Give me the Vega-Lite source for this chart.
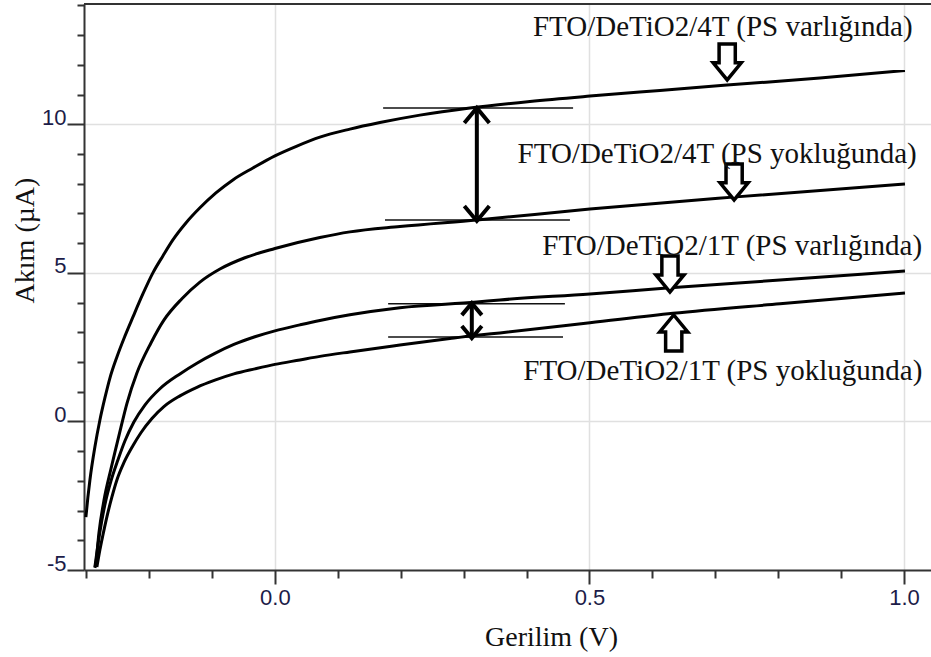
{
  "$schema": "https://vega.github.io/schema/vega-lite/v6.json",
  "autosize": {"type": "none"},
  "padding": {"left": 84, "top": 4, "right": 0, "bottom": 87},
  "width": 847,
  "height": 566,
  "background": "white",
  "config": {"view": {"stroke": null}},
  "datasets": {
    "curves": [
      {"s":"A","x":-0.3005,"y":-3.22},{"s":"A","x":-0.2973,"y":-2.55},{"s":"A","x":-0.2941,"y":-1.97},{"s":"A","x":-0.2862,"y":-0.86},{"s":"A","x":-0.2782,"y":0.05},{"s":"A","x":-0.2703,"y":0.79},{"s":"A","x":-0.2623,"y":1.46},{"s":"A","x":-0.2512,"y":2.17},{"s":"A","x":-0.2385,"y":2.87},{"s":"A","x":-0.2258,"y":3.51},{"s":"A","x":-0.2099,"y":4.29},{"s":"A","x":-0.194,"y":5.0},{"s":"A","x":-0.1781,"y":5.57},{"s":"A","x":-0.1622,"y":6.11},{"s":"A","x":-0.1415,"y":6.68},{"s":"A","x":-0.1192,"y":7.19},{"s":"A","x":-0.0938,"y":7.69},{"s":"A","x":-0.0668,"y":8.13},{"s":"A","x":-0.035,"y":8.53},{"s":"A","x":0.0,"y":8.94},{"s":"A","x":0.035,"y":9.27},{"s":"A","x":0.0715,"y":9.57},{"s":"A","x":0.1192,"y":9.84},{"s":"A","x":0.1669,"y":10.06},{"s":"A","x":0.2305,"y":10.31},{"s":"A","x":0.31,"y":10.55},{"s":"A","x":0.4054,"y":10.77},{"s":"A","x":0.5008,"y":10.95},{"s":"A","x":0.6121,"y":11.14},{"s":"A","x":0.7186,"y":11.32},{"s":"A","x":0.8665,"y":11.56},{"s":"A","x":1.0016,"y":11.81},
      {"s":"B","x":-0.2862,"y":-4.93},{"s":"B","x":-0.2846,"y":-4.77},{"s":"B","x":-0.2798,"y":-3.76},{"s":"B","x":-0.2719,"y":-2.67},{"s":"B","x":-0.2607,"y":-1.6},{"s":"B","x":-0.2528,"y":-0.9},{"s":"B","x":-0.2448,"y":-0.2},{"s":"B","x":-0.2353,"y":0.6},{"s":"B","x":-0.2194,"y":1.63},{"s":"B","x":-0.1971,"y":2.64},{"s":"B","x":-0.1765,"y":3.41},{"s":"B","x":-0.1479,"y":4.13},{"s":"B","x":-0.1192,"y":4.69},{"s":"B","x":-0.0874,"y":5.13},{"s":"B","x":-0.0477,"y":5.51},{"s":"B","x":0.0,"y":5.82},{"s":"B","x":0.0715,"y":6.19},{"s":"B","x":0.1192,"y":6.38},{"s":"B","x":0.1987,"y":6.56},{"s":"B","x":0.3211,"y":6.78},{"s":"B","x":0.5008,"y":7.15},{"s":"B","x":0.7281,"y":7.55},{"s":"B","x":1.0016,"y":7.99},
      {"s":"C","x":-0.2862,"y":-4.9},{"s":"C","x":-0.2814,"y":-4.16},{"s":"C","x":-0.275,"y":-3.32},{"s":"C","x":-0.2687,"y":-2.65},{"s":"C","x":-0.2607,"y":-2.01},{"s":"C","x":-0.2496,"y":-1.3},{"s":"C","x":-0.2385,"y":-0.66},{"s":"C","x":-0.2242,"y":-0.02},{"s":"C","x":-0.2067,"y":0.55},{"s":"C","x":-0.1828,"y":1.1},{"s":"C","x":-0.151,"y":1.6},{"s":"C","x":-0.124,"y":1.96},{"s":"C","x":-0.0954,"y":2.29},{"s":"C","x":-0.0652,"y":2.59},{"s":"C","x":-0.0318,"y":2.85},{"s":"C","x":0.0,"y":3.05},{"s":"C","x":0.0397,"y":3.25},{"s":"C","x":0.0715,"y":3.4},{"s":"C","x":0.1192,"y":3.59},{"s":"C","x":0.1987,"y":3.83},{"s":"C","x":0.3211,"y":4.02},{"s":"C","x":0.3577,"y":4.09},{"s":"C","x":0.5008,"y":4.29},{"s":"C","x":0.6232,"y":4.49},{"s":"C","x":0.8029,"y":4.76},{"s":"C","x":1.0016,"y":5.06},
      {"s":"D","x":-0.283,"y":-4.9},{"s":"D","x":-0.2782,"y":-4.32},{"s":"D","x":-0.2734,"y":-3.82},{"s":"D","x":-0.2671,"y":-3.21},{"s":"D","x":-0.2591,"y":-2.54},{"s":"D","x":-0.2512,"y":-1.97},{"s":"D","x":-0.2401,"y":-1.39},{"s":"D","x":-0.2258,"y":-0.82},{"s":"D","x":-0.213,"y":-0.38},{"s":"D","x":-0.1955,"y":0.1},{"s":"D","x":-0.1765,"y":0.5},{"s":"D","x":-0.151,"y":0.86},{"s":"D","x":-0.124,"y":1.15},{"s":"D","x":-0.0954,"y":1.39},{"s":"D","x":-0.0652,"y":1.6},{"s":"D","x":-0.0318,"y":1.77},{"s":"D","x":0.0,"y":1.92},{"s":"D","x":0.0397,"y":2.07},{"s":"D","x":0.0715,"y":2.19},{"s":"D","x":0.1192,"y":2.34},{"s":"D","x":0.1987,"y":2.57},{"s":"D","x":0.2782,"y":2.79},{"s":"D","x":0.3211,"y":2.9},{"s":"D","x":0.3577,"y":2.98},{"s":"D","x":0.5008,"y":3.32},{"s":"D","x":0.6328,"y":3.64},{"s":"D","x":0.8029,"y":3.96},{"s":"D","x":1.0016,"y":4.32}
    ],
    "hlines": [
      {"x":0.172,"x2":0.474,"y":10.55},
      {"x":0.175,"x2":0.469,"y":6.78},
      {"x":0.180,"x2":0.461,"y":3.96},
      {"x":0.180,"x2":0.458,"y":2.84}
    ],
    "shafts": [
      {"x":0.321,"y":10.5,"y2":6.85},
      {"x":0.313,"y":3.92,"y2":2.88}
    ],
    "heads": [
      {"x":0.321,"y":10.30,"dir":"up","kind":"big"},
      {"x":0.321,"y":7.0,"dir":"down","kind":"big"},
      {"x":0.313,"y":3.78,"dir":"up","kind":"small"},
      {"x":0.313,"y":3.01,"dir":"down","kind":"small"}
    ],
    "hollow": [
      {"x":0.719,"y":12.1,"dir":"down"},
      {"x":0.730,"y":8.06,"dir":"down"},
      {"x":0.628,"y":4.96,"dir":"down"},
      {"x":0.634,"y":2.98,"dir":"up"}
    ],
    "labels": [
      {"x":0.712,"y":12.97,"t":"FTO/DeTiO2/4T (PS varlığında)"},
      {"x":0.703,"y":8.70,"t":"FTO/DeTiO2/4T (PS yokluğunda)"},
      {"x":0.727,"y":5.60,"t":"FTO/DeTiO2/1T (PS varlığında)"},
      {"x":0.712,"y":1.39,"t":"FTO/DeTiO2/1T (PS yokluğunda)"}
    ]
  },
  "encoding": {
    "x": {
      "field": "x", "type": "quantitative",
      "scale": {"domain": [-0.3035, 1.043], "nice": false, "zero": false},
      "axis": {
        "title": "Gerilim (V)",
        "titleFont": "Liberation Serif", "titleFontSize": 28, "titleFontWeight": "normal", "titleColor": "#111111",
        "titleX": 467, "titleY": 75, "titleBaseline": "alphabetic", "titleAlign": "center", "titleAnchor": null,
        "values": [-0.3,-0.2,-0.1,0,0.1,0.2,0.3,0.4,0.5,0.6,0.7,0.8,0.9,1.0],
        "format": ".1f",
        "labelExpr": "abs(datum.value*2 - round(datum.value*2)) < 0.001 ? datum.label : ''",
        "labelFont": "Liberation Sans", "labelFontSize": 22, "labelColor": "#1c1c48",
        "labelPadding": 3, "labelFlush": false, "labelOverlap": false, "labelBaseline": "top",
        "tickSize": {"condition": {"test": "abs(datum.value*2 - round(datum.value*2)) < 0.001", "value": 14}, "value": 8},
        "tickColor": "#333333", "tickWidth": 2,
        "domainColor": "#333333", "domainWidth": 2,
        "grid": true, "gridColor": "#e0e0e0", "gridWidth": 1.5,
        "gridOpacity": {"condition": {"test": "abs(datum.value*2 - round(datum.value*2)) < 0.001", "value": 1}, "value": 0}
      }
    },
    "y": {
      "field": "y", "type": "quantitative",
      "scale": {"domain": [-5, 14.05], "nice": false, "zero": false},
      "axis": {
        "title": "Akım (µA)",
        "titleFont": "Liberation Serif", "titleFontSize": 28, "titleFontWeight": "normal", "titleColor": "#111111",
        "titleX": -51, "titleY": 236, "titleAngle": -90, "titleBaseline": "alphabetic", "titleAlign": "center", "titleAnchor": null,
        "values": [-5,-4,-3,-2,-1,0,1,2,3,4,5,6,7,8,9,10,11,12,13,14],
        "labelExpr": "datum.value % 5 === 0 ? replace(datum.label, '\u2212', '-') : ''",
        "labelFont": "Liberation Sans", "labelFontSize": 22, "labelColor": "#1c1c48",
        "labelPadding": 1, "labelBaseline": "alphabetic", "labelAlign": "right", "labelOverlap": false, "labelFlush": false,
        "tickSize": {"condition": {"test": "datum.value % 5 === 0", "value": 17}, "value": 7},
        "tickColor": "#333333", "tickWidth": 2,
        "domainColor": "#333333", "domainWidth": 2,
        "grid": true, "gridColor": "#e0e0e0", "gridWidth": 1.5,
        "gridOpacity": {"condition": {"test": "datum.value % 5 === 0 && datum.value > -5", "value": 1}, "value": 0}
      }
    }
  },
  "layer": [
    {
      "data": {"name": "hlines"},
      "mark": {"type": "rule", "color": "#111111", "strokeWidth": 1.5},
      "encoding": {"x2": {"field": "x2"}}
    },
    {
      "data": {"name": "curves"},
      "mark": {"type": "line", "color": "#000000", "strokeWidth": 3, "clip": true, "interpolate": "monotone"},
      "encoding": {"detail": {"field": "s", "type": "nominal"}}
    },
    {
      "data": {"name": "shafts"},
      "mark": {"type": "rule", "color": "#000000", "strokeWidth": 4},
      "encoding": {"y2": {"field": "y2"}}
    },
    {
      "data": {"name": "heads"},
      "mark": {"type": "point", "filled": false, "color": "#000000", "strokeWidth": 4, "opacity": 1},
      "encoding": {
        "shape": {"field": "dir", "type": "nominal", "legend": null,
          "scale": {"domain": ["up", "down"], "range": ["M-1,0.6L0,-0.6L1,0.6", "M-1,-0.6L0,0.6L1,-0.6"]}},
        "size": {"field": "kind", "type": "nominal", "legend": null,
          "scale": {"domain": ["big", "small"], "range": [625, 400]}}
      }
    },
    {
      "data": {"name": "hollow"},
      "mark": {"type": "point", "filled": true, "fill": "#ffffff", "stroke": "#000000", "strokeWidth": 3.5, "opacity": 1, "size": 1296},
      "encoding": {
        "shape": {"field": "dir", "type": "nominal", "legend": null,
          "scale": {"domain": ["down", "up"], "range": ["M-0.45,-1L0.45,-1L0.45,0.05L0.78,0.05L0,1L-0.78,0.05L-0.45,0.05Z", "M-0.45,1L0.45,1L0.45,-0.05L0.78,-0.05L0,-1L-0.78,-0.05L-0.45,-0.05Z"]}}
      }
    },
    {
      "data": {"name": "labels"},
      "mark": {"type": "text", "font": "Liberation Serif", "fontSize": 29, "color": "#111111", "align": "center", "baseline": "alphabetic"},
      "encoding": {"text": {"field": "t", "type": "nominal"}}
    },
    {
      "data": {"values": [{"top": 14.05}]},
      "mark": {"type": "rule", "color": "#333333", "strokeWidth": 2},
      "encoding": {"x": null, "y": {"field": "top", "type": "quantitative"}}
    }
  ],
  "resolve": {"scale": {"shape": "independent", "size": "independent"}}
}
